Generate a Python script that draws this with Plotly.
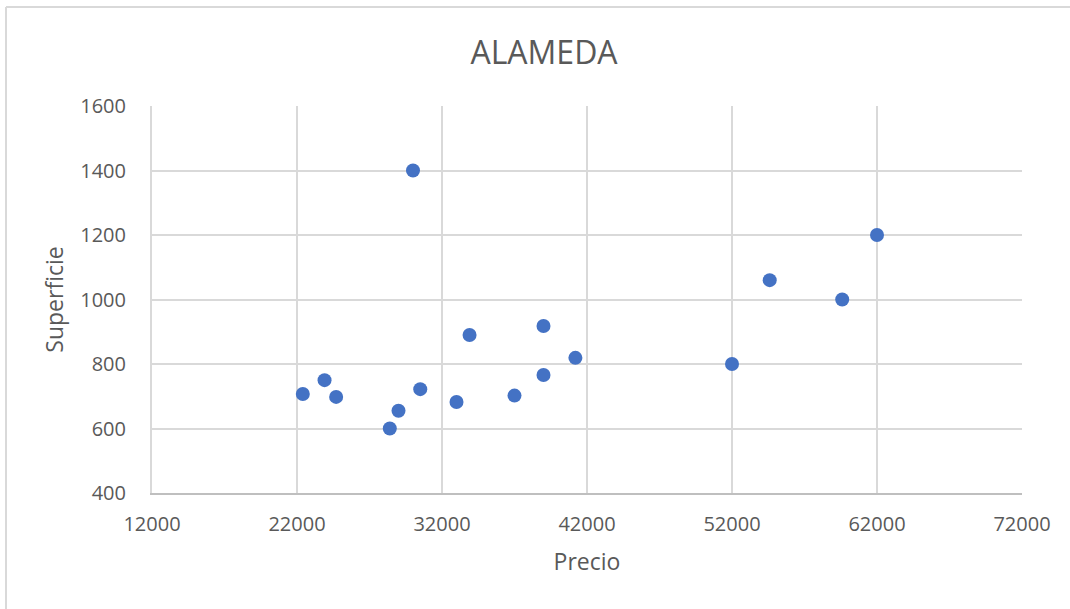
import plotly.graph_objects as go

precio = [22400, 23900, 24700, 28400, 29000, 30000, 30500, 33000, 33900, 37000,
          39000, 39000, 41200, 52000, 54600, 59600, 62000]
superficie = [707, 750, 698, 600, 655, 1400, 722, 682, 890, 702,
              918, 766, 819, 800, 1060, 1000, 1200]

x_ticks = [12000, 22000, 32000, 42000, 52000, 62000, 72000]
y_ticks = [400, 600, 800, 1000, 1200, 1400, 1600]

W, H = 1070, 609
L, R, T, B = 152, 48, 106, 116
pw, ph = W - L - R, H - T - B

fig = go.Figure()
fig.add_trace(go.Scatter(
    x=precio, y=superficie, mode="markers",
    marker=dict(color="#4472C4", size=14, line=dict(width=0)),
    showlegend=False,
))

font_family = "Open Sans, Liberation Sans, sans-serif"
fig.update_layout(
    width=W, height=H,
    margin=dict(l=L, r=R, t=T, b=B),
    paper_bgcolor="white", plot_bgcolor="white",
    font=dict(family=font_family, color="#595959"),
    title=dict(text="ALAMEDA", x=544 / W, xref="container",
               xanchor="center", y=1 - 53 / H, yanchor="middle",
               font=dict(size=32, color="#595959", family=font_family)),
    xaxis=dict(range=[12000, 72000], tickvals=x_ticks, ticktext=[str(v) for v in x_ticks],
               showgrid=True, gridcolor="#d9d9d9", gridwidth=2,
               showline=True, linecolor="#bfbfbf", linewidth=2,
               zeroline=False, ticks="outside", ticklen=12, tickcolor="rgba(0,0,0,0)",
               tickfont=dict(size=20, color="#595959"),
               title=dict(text="Precio", font=dict(size=23, color="#595959"), standoff=18)),
    yaxis=dict(range=[400, 1600], tickvals=y_ticks, ticktext=[str(v) for v in y_ticks],
               showgrid=True, gridcolor="#d9d9d9", gridwidth=2,
               showline=True, linecolor="#d9d9d9", linewidth=2,
               zeroline=False, ticks="outside", ticklen=20, tickcolor="rgba(0,0,0,0)",
               tickfont=dict(size=20, color="#595959"),
               title=dict(text="Superficie", font=dict(size=23, color="#595959"), standoff=10)),
)

# chart border: left and top edges only
bx0 = (6 - L) / pw
bx1 = (W + 5 - L) / pw
by_top = 1 + (T - 7) / ph
by_bot = -(H + 5 - T - ph) / ph
border = dict(color="#d9d9d9", width=2)
fig.add_shape(type="line", xref="paper", yref="paper", x0=bx0, x1=bx0, y0=by_bot, y1=by_top,
              line=border, layer="below")
fig.add_shape(type="line", xref="paper", yref="paper", x0=bx0, x1=bx1, y0=by_top, y1=by_top,
              line=border, layer="below")

fig.write_html("out.html", config={"displayModeBar": False},
               post_script="document.body.style.margin='0';")
